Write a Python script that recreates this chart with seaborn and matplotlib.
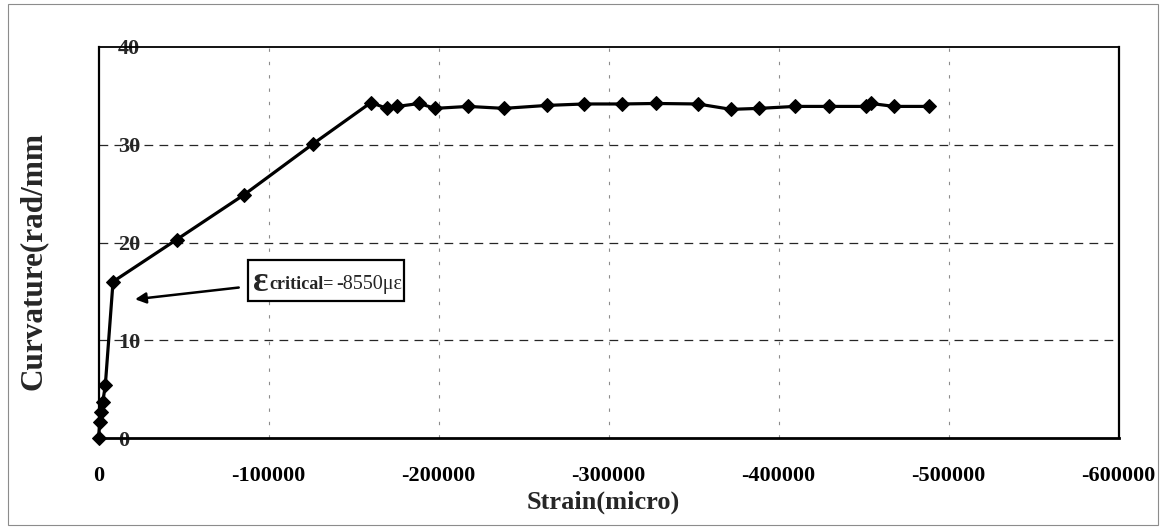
import matplotlib
matplotlib.use("Agg")
import matplotlib.pyplot as plt
from matplotlib.patches import Rectangle
import seaborn as sns
import pandas as pd

# Strain (micro) and curvature readings
strain = [0, -800, -1200, -2500, -4000, -8550, -46000, -85800, -126400,
          -160300, -169500, -175800, -188700, -197900, -217500, -238500,
          -263600, -285600, -307800, -327800, -352500, -372100, -388700,
          -409700, -429900, -451500, -454400, -468100, -488500]
curvature = [0, 1.7, 2.7, 3.7, 5.4, 16.0, 20.3, 24.9, 30.1,
             34.3, 33.7, 33.9, 34.2, 33.7, 33.9, 33.7,
             34.0, 34.15, 34.15, 34.2, 34.15, 33.6, 33.7,
             33.9, 33.9, 33.9, 34.2, 33.9, 33.9]

x_ticks = [0, -100000, -200000, -300000, -400000, -500000, -600000]
x_tick_labels = ["0", "-100000", "-200000", "-300000", "-400000", "-500000", "-600000"]
y_ticks = [0, 10, 20, 30, 40]
y_tick_labels = ["0", "10", "20", "30", "40"]

critical_strain = -8550

sns.set_style("white")
plt.rcParams["font.family"] = ["Liberation Serif", "DejaVu Serif"]

df = pd.DataFrame({"strain": strain, "curvature": curvature})

fig = plt.figure(figsize=(11.68, 5.29), dpi=100)
ax = fig.add_axes([98.5 / 1168, 1 - 438.3 / 529, 1020 / 1168, 391.6 / 529])

sns.lineplot(data=df, x="strain", y="curvature", sort=False, ax=ax,
             color="black", linewidth=2.3, marker="D", markersize=7,
             markeredgecolor="black", markerfacecolor="black", zorder=5,
             clip_on=False)

ax.set_xlim(0, -600000)
ax.set_ylim(0, 40)

# grid lines
for xv in x_ticks[1:-1]:
    ax.axvline(xv, color="0.55", lw=0.8, dashes=(3, 9), zorder=1)
for yv in y_ticks[1:-1]:
    ax.axhline(yv, color="0.15", lw=0.9, dashes=(7, 5), zorder=1)

for side, lw in [("left", 1.6), ("top", 1.3), ("right", 1.6), ("bottom", 2.0)]:
    ax.spines[side].set_visible(True)
    ax.spines[side].set_color("black")
    ax.spines[side].set_linewidth(lw)

ax.set_xticks(x_ticks)
ax.set_xticklabels(x_tick_labels, fontsize=16, fontweight="bold")
ax.set_yticks(y_ticks)
ax.set_yticklabels(y_tick_labels, fontsize=16, fontweight="bold")
ax.tick_params(axis="x", direction="out", length=4, width=1, pad=16, colors="black")
ax.tick_params(axis="y", length=0, pad=-14)
for lab in ax.get_yticklabels():
    lab.set_horizontalalignment("left")

ax.set_xlabel("Strain(micro)", fontsize=19, fontweight="bold", va="center")
ax.xaxis.set_label_coords(0.495, -0.163)
ax.set_ylabel("Curvature(rad/mm", fontsize=22.5, fontweight="bold", va="center")
ax.yaxis.set_label_coords(-0.064, 0.452)

# critical strain call-out
ax.annotate("", xy=(-21500, 14.2), xytext=(-82500, 15.4),
            arrowprops=dict(arrowstyle="-|>", color="black", lw=1.8,
                            mutation_scale=16, shrinkA=0, shrinkB=0), zorder=6)
ax.add_patch(Rectangle((0.1466, 0.351), 0.153, 0.105, transform=ax.transAxes,
                       fill=True, facecolor="white", edgecolor="black",
                       lw=1.6, zorder=6))
t1 = ax.text(0.151, 0.375, "\u03b5", transform=ax.transAxes, fontsize=26,
             fontweight="bold", va="baseline", ha="left", zorder=7)
t2 = ax.annotate("critical=", xy=(1, 0), xycoords=t1, xytext=(1, 5),
                 textcoords="offset points", fontsize=13, fontweight="bold",
                 va="bottom", ha="left", zorder=7)
t3 = ax.annotate(f"{critical_strain}\u03bc\u03b5", xy=(1, 0), xycoords=t2,
                 xytext=(2, -1), textcoords="offset points", fontsize=14.5,
                 va="bottom", ha="left", zorder=7)

# outer frame
fig.patches.append(Rectangle((8 / 1168, 4 / 529), 1150 / 1168, 521 / 529,
                             transform=fig.transFigure, fill=False,
                             edgecolor="0.55", lw=0.8))

fig.savefig("out.png", dpi=100)
